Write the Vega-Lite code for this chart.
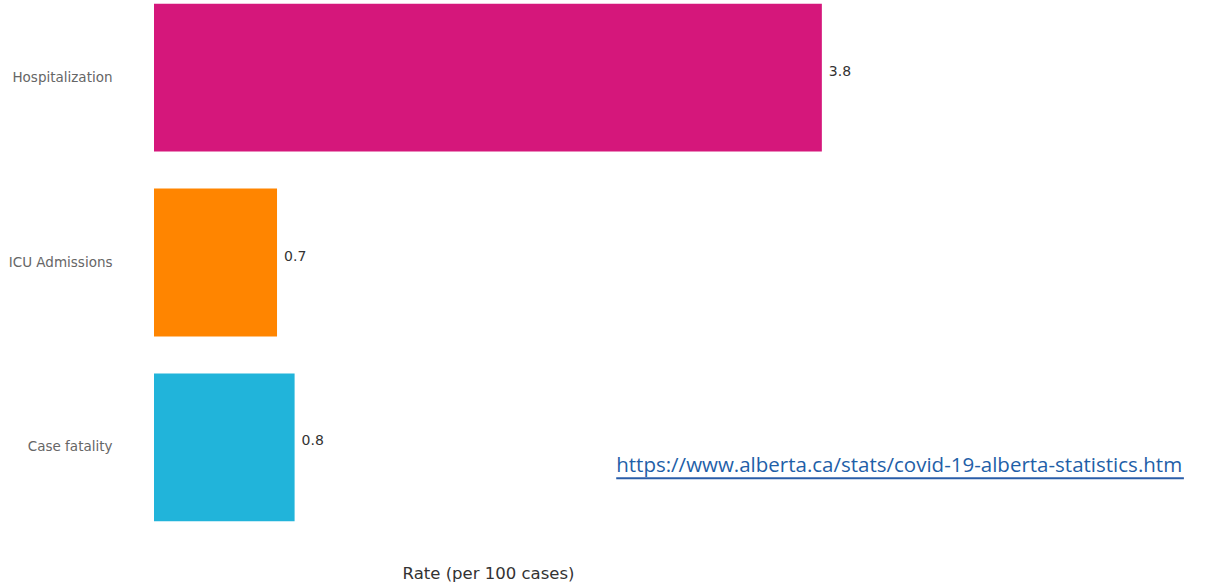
{
  "$schema": "https://vega.github.io/schema/vega-lite/v6.json",
  "autosize": "none",
  "width": 703,
  "height": 525,
  "padding": {"left": 154, "top": 0, "right": 356, "bottom": 61},
  "background": "white",
  "config": {"view": {"stroke": null}, "font": "DejaVu Sans"},
  "datasets": {
    "rates": [
      {"measure": "Hospitalization", "rate": 3.8, "label": "3.8"},
      {"measure": "ICU Admissions", "rate": 0.7, "label": "0.7"},
      {"measure": "Case fatality", "rate": 0.8, "label": "0.8"}
    ],
    "source": [
      {"measure": "Case fatality", "x": 2.63, "x2": 5.86, "text": "https://www.alberta.ca/stats/covid-19-alberta-statistics.htm"}
    ]
  },
  "layer": [
    {
      "data": {"name": "rates"},
      "mark": {"type": "bar"},
      "encoding": {
        "y": {
          "field": "measure", "type": "nominal",
          "sort": ["Hospitalization", "ICU Admissions", "Case fatality"],
          "scale": {"paddingInner": 0.2, "paddingOuter": 0.02},
          "axis": {"title": null, "ticks": false, "domain": false, "labelPadding": 42, "labelFontSize": 13.5, "labelColor": "#666666", "labelFont": "DejaVu Sans"}
        },
        "x": {
          "field": "rate", "type": "quantitative",
          "scale": {"domain": [0, 4]},
          "axis": {"title": "Rate (per 100 cases)", "labels": false, "ticks": false, "domain": false, "grid": false, "titlePadding": 40, "titleFontSize": 16.5, "titleFontWeight": "normal", "titleColor": "#333333", "titleFont": "DejaVu Sans", "titleX": 334}
        },
        "color": {
          "field": "measure", "type": "nominal",
          "scale": {"domain": ["Hospitalization", "ICU Admissions", "Case fatality"], "range": ["#D5177B", "#FF8500", "#21B4DA"]},
          "legend": null
        }
      }
    },
    {
      "data": {"name": "rates"},
      "mark": {"type": "text", "align": "left", "baseline": "middle", "dx": 7, "dy": -6, "fontSize": 14, "font": "DejaVu Sans", "color": "#333333"},
      "encoding": {
        "y": {"field": "measure", "type": "nominal", "sort": ["Hospitalization", "ICU Admissions", "Case fatality"]},
        "x": {"field": "rate", "type": "quantitative"},
        "text": {"field": "label"}
      }
    },
    {
      "data": {"name": "source"},
      "mark": {"type": "text", "align": "left", "baseline": "middle", "dy": 19, "fontSize": 20.5, "font": "Open Sans", "color": "#1F5FA8"},
      "encoding": {
        "y": {"field": "measure", "type": "nominal", "sort": ["Hospitalization", "ICU Admissions", "Case fatality"]},
        "x": {"field": "x", "type": "quantitative"},
        "text": {"field": "text"}
      }
    },
    {
      "data": {"name": "source"},
      "mark": {"type": "rule", "yOffset": 31, "color": "#2A5DA8", "strokeWidth": 2},
      "encoding": {
        "y": {"field": "measure", "type": "nominal", "sort": ["Hospitalization", "ICU Admissions", "Case fatality"]},
        "x": {"field": "x", "type": "quantitative"},
        "x2": {"field": "x2"}
      }
    }
  ]
}
